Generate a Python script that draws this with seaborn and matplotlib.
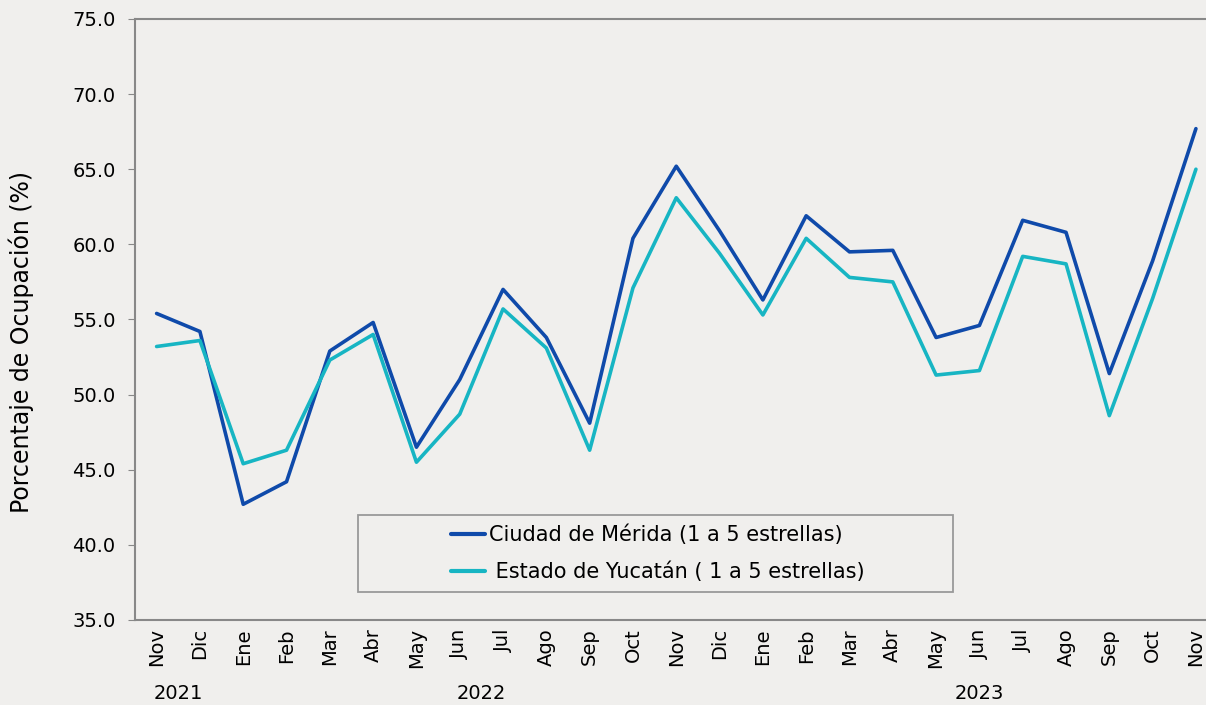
import pandas as pd
import seaborn as sns
import matplotlib.pyplot as plt
from matplotlib.patches import Rectangle
from matplotlib.ticker import FormatStrFormatter

meses = ["Nov", "Dic", "Ene", "Feb", "Mar", "Abr", "May", "Jun", "Jul", "Ago", "Sep", "Oct",
         "Nov", "Dic", "Ene", "Feb", "Mar", "Abr", "May", "Jun", "Jul", "Ago", "Sep", "Oct", "Nov"]
merida = [55.4, 54.2, 42.7, 44.2, 52.9, 54.8, 46.5, 51.0, 57.0, 53.8, 48.1, 60.4, 65.2,
          60.9, 56.3, 61.9, 59.5, 59.6, 53.8, 54.6, 61.6, 60.8, 51.4, 58.9, 67.7]
yucatan = [53.2, 53.6, 45.4, 46.3, 52.3, 54.0, 45.5, 48.7, 55.7, 53.1, 46.3, 57.1, 63.1,
           59.4, 55.3, 60.4, 57.8, 57.5, 51.3, 51.6, 59.2, 58.7, 48.6, 56.4, 65.0]
anios = ["2021", "2022", "2023"]
anios_pos = [0.5, 7.5, 19.0]

serie_merida = "Ciudad de Mérida (1 a 5 estrellas)"
serie_yucatan = " Estado de Yucatán ( 1 a 5 estrellas)"

df = pd.DataFrame({
    "idx": list(range(len(meses))) * 2,
    "valor": merida + yucatan,
    "serie": [serie_merida] * len(meses) + [serie_yucatan] * len(meses),
})

sns.set_style("white")
plt.rcParams["font.family"] = ["DejaVu Sans"]
plt.rcParams["text.color"] = "black"
plt.rcParams["axes.labelcolor"] = "black"
plt.rcParams["xtick.labelcolor"] = "black"
plt.rcParams["ytick.labelcolor"] = "black"

bg = "#f0efed"
fig = plt.figure(figsize=(12.06, 7.05), dpi=100, facecolor=bg)
ax = fig.add_axes([0.1119, 0.1206, 0.8977, 0.8525])
ax.set_facecolor(bg)

sns.lineplot(data=df, x="idx", y="valor", hue="serie", sort=False,
             palette={serie_merida: "#0f4aaa", serie_yucatan: "#17b5c3"},
             linewidth=2.6, ax=ax, legend=True)

ax.set_xlim(-0.5, len(meses) - 0.5)
ax.set_ylim(35, 75)
ax.set_yticks(range(35, 76, 5))
ax.yaxis.set_major_formatter(FormatStrFormatter("%.1f"))
ax.set_xticks(range(len(meses)))
ax.set_xticklabels(meses, rotation=90, fontsize=14)
ax.tick_params(axis="y", labelsize=14, length=5, pad=9, color="#888888", direction="out", left=True)
ax.tick_params(axis="x", length=0, pad=6)
ax.set_xlabel("")
ax.set_ylabel("Porcentaje de Ocupación (%)", fontsize=17)
ax.yaxis.set_label_coords(-0.093, 0.463)

for s in ["left", "top", "bottom"]:
    ax.spines[s].set_color("#888888")
    ax.spines[s].set_linewidth(1.5)
ax.spines["right"].set_visible(False)

for a, p in zip(anios, anios_pos):
    ax.text(p, -0.122, a, transform=ax.get_xaxis_transform(), ha="center", va="center", fontsize=14)

# marco de la leyenda
ax.add_patch(Rectangle((0.206, 0.0466), 0.5496, 0.1281, transform=ax.transAxes,
                       fill=False, edgecolor="#999999", linewidth=1.3, zorder=3))
leg = ax.legend(loc="center left", bbox_to_anchor=(0.275, 0.111), frameon=False,
                fontsize=15, handlelength=1.6, handletextpad=0.2, labelspacing=0.8)
for line in leg.get_lines():
    line.set_linewidth(3)

fig.savefig("out.png", dpi=100, facecolor=bg)
